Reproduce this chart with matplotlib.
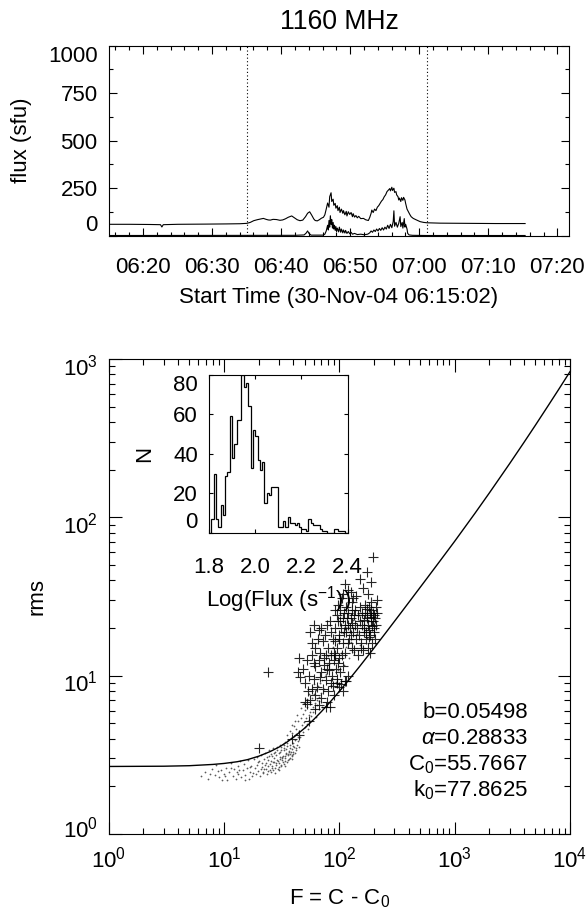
import numpy as np
import matplotlib
matplotlib.use("Agg")
import matplotlib.pyplot as plt
import matplotlib.transforms as mtransforms
from matplotlib.ticker import MultipleLocator, FixedLocator

plt.rcParams['font.family'] = ['Liberation Sans', 'DejaVu Sans']
plt.rcParams['mathtext.fontset'] = 'custom'
plt.rcParams['mathtext.rm'] = 'Liberation Sans'
plt.rcParams['mathtext.it'] = 'Liberation Sans:italic'
plt.rcParams['mathtext.default'] = 'regular'
plt.rcParams['font.size'] = 16

# ---------------- light curve (minutes after 06:15:02) ----------------
start_label = 'Start Time (30-Nov-04 06:15:02)'
start_min = 6 * 60 + 15 + 2 / 60.0
tick_labels = ['06:20', '06:30', '06:40', '06:50', '07:00', '07:10', '07:20']
window_edges = [20.0, 46.1]   # dotted lines

t_total = [0.0, 3.0, 6.0, 7.5, 7.7, 7.9, 10.0, 14.0, 17.0, 19.0, 20.0, 20.5,
           21.0, 21.5, 22.0, 22.4, 22.8, 23.1, 23.4, 23.8, 24.3, 24.8, 25.2,
           25.6, 26.0, 26.5, 26.9, 27.3, 27.7, 28.1, 28.5, 28.8, 29.1, 29.4,
           29.7, 29.9, 30.2, 30.5, 30.8, 31.1, 31.3, 31.5, 31.7, 31.9, 32.0,
           32.2, 32.3, 32.5, 32.6, 32.8, 32.9, 33.1, 33.2, 33.4, 33.5, 33.7,
           33.9, 34.0, 34.2, 34.4, 34.5, 34.7, 34.9, 35.1, 35.3, 35.4, 35.6,
           35.8, 36.0, 36.2, 36.5, 36.9, 37.2, 37.6, 37.8, 38.0, 38.1, 38.3,
           38.5, 38.7, 38.9, 39.1, 39.3, 39.5, 39.7, 39.9, 40.1, 40.3, 40.5,
           40.7, 40.8, 41.0, 41.1, 41.3, 41.4, 41.6, 41.7, 41.9, 42.0, 42.1,
           42.3, 42.4, 42.6, 42.7, 42.9, 43.0, 43.2, 43.4, 43.6, 43.8, 44.1,
           44.5, 45.1, 45.6, 46.1, 48.0, 52.0, 56.0, 60.3]
flux_total = [60, 60, 59, 58, 46, 58, 60, 61, 62, 63, 65, 70,
              79, 84, 88, 91, 86, 83, 82, 86, 85, 81, 83,
              89, 97, 104, 94, 84, 79, 82, 100, 118, 126, 108,
              88, 80, 78, 84, 92, 97, 110, 140, 172, 150, 205,
              226, 180, 192, 160, 170, 145, 158, 132, 150, 122, 140,
              118, 132, 110, 128, 104, 126, 112, 122, 100, 116, 98,
              106, 94, 102, 90, 91, 84, 80, 96, 118, 135, 122,
              140, 132, 150, 158, 170, 182, 190, 205, 215, 232, 240,
              248, 236, 255, 238, 250, 228, 232, 215, 205, 188, 198,
              180, 200, 186, 202, 188, 170, 140, 126, 112, 100, 91,
              84, 74, 70, 68, 66, 65, 64, 64]

t_pol = [0.0, 27.0, 28.3, 28.6, 28.8, 29.0, 29.3, 31.0, 31.3, 31.5, 31.7,
         31.8, 31.9, 32.0, 32.1, 32.2, 32.3, 32.4, 32.5, 32.6, 32.7, 32.8,
         32.9, 33.0, 33.1, 33.3, 33.4, 33.6, 33.7, 33.9, 34.0, 34.2, 34.3,
         34.5, 34.7, 34.9, 35.1, 35.3, 35.6, 36.0, 36.5, 37.0, 37.5, 37.8,
         38.0, 38.2, 38.4, 38.6, 38.8, 39.0, 39.2, 39.4, 39.6, 39.8, 40.0,
         40.2, 40.4, 40.6, 40.8, 41.0, 41.2, 41.3, 41.4, 41.6, 41.8, 42.0,
         42.2, 42.3, 42.5, 42.6, 42.8, 42.9, 43.0, 43.2, 43.3, 43.5, 44.0,
         46.0, 60.3]
flux_pol = [1, 2, 4, 14, 25, 12, 3, 3, 8, 25, 55,
            30, 80, 45, 105, 60, 85, 40, 70, 35, 55, 28,
            48, 22, 40, 20, 45, 18, 35, 15, 30, 14, 28,
            12, 22, 10, 18, 8, 12, 6, 8, 5, 8, 15,
            25, 18, 30, 22, 35, 25, 38, 28, 42, 30, 45,
            35, 55, 38, 60, 42, 75, 131, 50, 70, 45, 65,
            100, 48, 70, 40, 90, 45, 60, 35, 12, 4, 2,
            1, 1]

# ---------------- histogram (inset) ----------------
hist_start, hist_width = 1.80, 0.01
hist_counts = [0, 7, 30, 7, 3, 14, 9, 29, 31, 59,
               38, 45, 57, 57, 80, 74, 76, 64, 33, 52,
               49, 37, 32, 36, 15, 20, 19, 23, 23, 23,
               3, 3, 6, 3, 8, 5, 5, 4, 5, 3,
               2, 2, 1, 7, 5, 4, 4, 4, 2, 1,
               1, 0, 0, 0, 2, 2, 1, 1, 1, 0]

# ---------------- rms vs F ----------------
model_F = [1, 3, 5, 8, 10, 13, 16, 20, 25, 30, 35, 40, 50, 60, 70, 85, 100,
           120, 150, 200, 250, 325, 425, 550, 750, 1000, 1500, 2000, 3000,
           4000, 5000, 6500, 8000, 10000]
model_rms = [2.67, 2.68, 2.70, 2.75, 2.79, 2.86, 2.95, 3.10, 3.31, 3.54, 3.80,
             4.08, 4.66, 5.29, 5.94, 6.94, 7.96, 9.35, 11.44, 14.96, 18.48,
             23.75, 30.75, 39.45, 53.3, 70.6, 106.1, 142.7, 218.7, 298.2,
             380.8, 510.3, 644.7, 832]

cross_F = [197, 173, 187, 211, 160, 150, 178, 140, 125,
           112, 120, 105, 128, 98, 115, 108, 132, 92,
           95, 102, 110, 118, 125, 132, 100, 108, 115, 122, 130, 138, 96, 104,
           112, 128, 135, 92, 99, 117, 126, 106, 140, 113, 120, 133, 101, 110,
           124, 97, 91, 137, 107, 119, 129,
           150, 158, 165, 172, 180, 188, 195, 200, 205, 148, 155, 162, 170, 178,
           185, 192, 198, 208, 152, 168, 176, 184, 190, 146, 160, 174, 182, 196,
           203, 157, 166, 187, 193, 142, 153, 171, 199, 206, 163, 179, 186, 145,
           210, 175, 189,
           56, 60, 65, 70, 75, 80, 85, 62, 68, 78, 88, 58, 72, 83, 90, 66, 76,
           45, 48, 52, 55, 58, 62, 66, 70, 74, 78, 82, 86, 90, 50, 54, 60, 64,
           68, 72, 76, 80, 84, 88, 46, 56, 62, 70, 78, 66, 52, 94, 98, 96, 102,
           108, 104, 112, 60, 74, 85, 92, 44, 58, 82, 100,
           100, 108, 115, 90, 120, 95,
           20, 39, 45, 55, 50, 61, 76, 83, 24]
cross_rms = [56, 45, 39, 30, 36, 41, 33, 32, 34,
             38, 35, 31, 29, 28, 27, 33, 31, 26,
             24, 22, 25, 21, 23, 19, 18, 16, 19, 17, 15, 21, 15, 20,
             14, 26, 24, 20, 17, 23, 18, 13.5, 17, 21, 16, 14.5, 26, 19,
             20, 22, 16.5, 26, 23, 25, 21.5,
             22, 25, 20, 24, 27, 22, 25, 20, 23, 18, 16, 19, 17, 21,
             18, 16, 19, 27, 27, 28, 15, 25, 29, 24, 14.5, 23, 19.5, 22,
             17, 21, 25, 26, 20.5, 20, 15, 19, 24, 21, 22.5, 17.5, 14, 13.5,
             25, 26.5, 23.5,
             19, 21, 17, 20, 18, 15, 19, 15, 14, 21, 17, 16, 16.5, 22, 14, 19.5, 13.5,
             13, 11, 12.5, 10, 13.5, 11.5, 12.5, 10.5, 13, 11, 12, 10, 12.5, 9, 8, 9.5, 8.5,
             9.8, 8.2, 9.4, 8, 9, 8.6, 9.8, 7, 7.5, 7.2, 6.8, 6.5, 6.6, 11, 12, 9.5, 10.5,
             11.5, 8.8, 9.2, 12, 11.7, 13.5, 13.5, 10.5, 8.2, 10.8, 13,
             8.5, 8, 9.3, 7.6, 10, 9,
             3.5, 4.0, 4.2, 5.2, 6.8, 6.2, 6.3, 6.3, 10.5]

dot_F = [6.3, 6.9, 7.2, 7.8, 8.3, 8.6, 9.1, 9.4, 9.9, 10.3, 10.7, 11.1, 11.4,
         11.9, 12.2, 12.6, 13.1, 13.3, 13.8, 14.1, 14.6, 14.9, 15.3, 15.7,
         16.2, 16.4, 16.9, 17.3, 17.6, 18.1, 7.5, 8.9, 10.1, 12.9, 15.1, 16.7,
         17.9, 11.6, 9.6, 13.6,
         18.4, 18.8, 19.2, 19.5, 19.9, 20.3, 20.6, 21.0, 21.3, 21.7, 22.1,
         22.4, 22.8, 23.1, 23.5, 23.8, 24.2, 24.6, 24.9, 25.3, 25.7, 26.0,
         26.4, 26.7, 27.1, 27.5, 27.8, 28.2, 28.6, 28.9, 29.3, 29.7, 30.1,
         30.4, 30.8, 31.2, 31.5, 31.9, 32.3, 32.6, 33.0, 33.4, 33.8, 34.1,
         34.5, 34.9, 35.3, 35.7, 36.1, 36.4, 36.8, 37.2, 37.7, 38.1, 38.5,
         38.9, 39.4, 39.8, 40.3, 40.8, 41.3, 41.9, 42.5, 43.1, 43.8, 44.5,
         22.6, 23.9, 25.1, 26.2, 27.3, 28.4, 29.5, 30.6, 31.7, 32.8, 33.6,
         34.7, 35.9, 37.0, 38.3, 39.6, 24.4, 26.9, 29.0, 31.0, 33.2, 35.1,
         23.3, 25.9, 28.0, 30.3, 32.1, 34.3, 36.6, 21.5, 20.8, 27.7, 31.3,
         34.0, 37.5, 40.0, 19.7, 24.0, 26.5, 29.8, 32.5, 36.0, 38.7, 42.0,
         44.0, 41.0, 21.9, 25.5, 30.0, 33.9, 39.0,
         35.5, 37.4, 39.2, 40.6, 42.3, 43.5, 44.8, 46.2, 47.1, 48.5, 49.3,
         50.6, 51.8, 52.9, 54.1, 55.4, 56.2, 57.7, 58.6, 59.8, 61.2, 62.5,
         63.9, 65.3, 66.7, 68.2, 69.6, 71.3, 73.0, 74.8, 45.5, 48.0, 50.1,
         52.3, 54.7, 57.0, 59.3, 61.8, 64.4, 67.1, 46.8, 49.7, 52.1, 55.0,
         58.1, 60.5, 43.0, 41.5, 38.6, 53.5, 62.9, 70.2,
         76, 81, 86, 91, 97, 103, 109, 114, 121, 127, 134, 142, 151, 163,
         172, 79, 88, 98, 107, 118, 132, 148, 84, 94]
dot_rms = [2.31, 2.46, 2.22, 2.58, 2.35, 2.71, 2.28, 2.52, 2.40, 2.63, 2.19,
           2.47, 2.81, 2.33, 2.56, 2.24, 2.69, 2.41, 2.88, 2.29, 2.52, 2.75,
           2.37, 2.61, 2.93, 2.21, 2.48, 2.70, 2.34, 2.97, 2.38, 2.49, 2.31,
           2.45, 2.18, 2.66, 2.43, 2.60, 2.19, 2.55,
           2.62, 2.39, 3.05, 2.74, 2.51, 2.88, 2.33, 3.14, 2.66, 2.47, 2.97,
           2.58, 3.27, 2.79, 2.41, 3.08, 2.69, 3.38, 2.52, 2.91, 3.19, 2.61,
           3.47, 2.83, 3.02, 2.44, 3.31, 2.72, 3.56, 2.95, 2.57, 3.23, 2.81,
           3.64, 3.06, 2.68, 3.41, 2.93, 3.72, 3.12, 2.76, 3.49, 3.01, 3.83,
           3.25, 2.87, 3.58, 3.14, 3.92, 3.36, 2.98, 3.67, 3.21, 4.05, 3.44,
           3.09, 3.78, 3.31, 4.14, 3.55, 3.95, 3.40, 4.28, 3.66, 4.09, 3.52,
           2.71, 2.95, 2.77, 3.09, 2.86, 3.15, 2.90, 3.28, 3.04, 3.37, 3.11,
           3.46, 3.22, 3.51, 3.29, 3.60, 3.12, 3.24, 3.39, 3.52, 3.63, 3.77,
           2.58, 2.68, 2.81, 2.97, 3.07, 3.18, 3.30, 2.82, 2.57, 2.63, 2.74,
           2.88, 3.02, 3.18, 2.83, 2.49, 2.54, 2.66, 2.84, 2.92, 3.15, 3.48,
           3.86, 3.27, 2.43, 2.47, 2.55, 2.70, 2.96,
           4.21, 4.48, 4.35, 4.82, 4.63, 5.14, 4.46, 5.37, 4.88, 5.72, 5.09,
           6.04, 5.41, 6.38, 5.67, 6.85, 5.93, 7.24, 6.31, 7.66, 6.74, 8.12,
           7.02, 8.57, 7.38, 8.96, 7.81, 9.4, 8.25, 9.9, 4.12, 4.43, 4.71,
           4.97, 5.26, 5.55, 5.88, 6.19, 6.52, 6.87, 6.28, 6.71, 7.15, 7.63,
           8.22, 8.84, 5.62, 5.18, 4.87, 4.58, 5.45, 6.35,
           10.3, 11.8, 9.6, 12.7, 10.8, 13.9, 11.6, 15.2, 12.9, 16.4, 14.1,
           18.3, 15.6, 20.1, 17.4, 13.4, 15.1, 16.8, 18.6, 20.3, 22.5, 24.1,
           8.7, 9.1]

params = ['b=0.05498', r'$\mathit{\alpha}$=0.28833', 'C$_0$=55.7667',
          'k$_0$=77.8625']

# ---------------- figure ----------------
fig = plt.figure(figsize=(5.88, 9.14), dpi=100)
W, H = 588.0, 914.0


def box(l, t, r, b):
    return [l / W, 1 - b / H, (r - l) / W, (b - t) / H]


# top panel: light curve
ax1 = fig.add_axes(box(108.7, 45.7, 569.3, 235.7))
ax1.plot(t_total, flux_total, color='k', lw=0.8)
ax1.plot(t_pol, flux_pol, color='k', lw=0.8)
for x in window_edges:
    ax1.axvline(x, color='k', lw=0.8, ls=(0, (1, 2.2)))
ax1.set_xlim(0, 66.7)
ax1.set_ylim(0, 1000)
tick_pos = [int(s[:2]) * 60 + int(s[3:]) - start_min for s in tick_labels]
ax1.set_xticks(tick_pos)
ax1.set_xticklabels(tick_labels)
ax1.xaxis.set_minor_locator(FixedLocator([p + d for p in tick_pos for d in (-8, -6, -4, -2)]))
ax1.set_yticks([0, 250, 500, 750, 1000])
ax1.yaxis.set_minor_locator(MultipleLocator(125))
ax1.tick_params(which='both', direction='in', top=True, right=True, width=0.8)
ax1.tick_params(which='major', length=6)
ax1.tick_params(which='minor', length=3)
ax1.tick_params(axis='x', pad=15)
ax1.tick_params(axis='y', pad=8)
ylab = ax1.get_yticklabels()
ylab[0].set_va('bottom')
ylab[-1].set_va('top')
ax1.set_xlabel(start_label, va='center')
ax1.xaxis.set_label_coords(0.5, (235.7 - 297.0) / 190.0)
ax1.set_ylabel('flux (sfu)', va='center')
ax1.yaxis.set_label_coords((21.7 - 108.7) / 460.6, 0.5)
ax1.set_title('1160 MHz', pad=12)

# bottom panel: rms vs F
ax2 = fig.add_axes(box(108.7, 359.0, 570.0, 834.0))
ax2.set_xscale('log')
ax2.set_yscale('log')
ax2.scatter(dot_F, dot_rms, s=1.6, color='0.35', linewidths=0)
ax2.plot(cross_F, cross_rms, ls='none', marker='+', ms=7, mew=0.8,
         color='k', alpha=0.85)
ax2.plot(model_F, model_rms, color='k', lw=1.0)
ax2.set_xlim(1, 1e4)
ax2.set_ylim(1, 1e3)
ax2.tick_params(which='both', direction='in', top=True, right=True, width=0.8)
ax2.tick_params(which='major', length=9)
ax2.tick_params(which='minor', length=4.5)
ax2.tick_params(axis='x', pad=9)
ax2.tick_params(axis='y', pad=8)
fig.canvas.draw()
for k, lab in enumerate(ax2.get_yticklabels()):
    dy = 5 / 72.0 if lab.get_text() == r'$\mathdefault{10^{0}}$' else -4 / 72.0
    lab.set_transform(lab.get_transform() +
                      mtransforms.ScaledTranslation(0, dy, fig.dpi_scale_trans))
ax2.set_xlabel('F = C - C$_0$', va='center')
ax2.xaxis.set_label_coords(0.5, (834.0 - 899.0) / 475.0)
ax2.set_ylabel('rms', va='center')
ax2.yaxis.set_label_coords((37.0 - 108.7) / 461.3, 0.5)
for k, s in enumerate(params):
    ax2.text(0.909, 0.2436 - k * 0.0550, s, transform=ax2.transAxes,
             ha='right', va='baseline')

# inset histogram
ax3 = fig.add_axes(box(209.0, 374.7, 347.7, 533.0))
edges = [hist_start + i * hist_width for i in range(len(hist_counts) + 1)]
ax3.stairs(hist_counts, edges, color='k', lw=0.9)
ax3.set_xlim(1.8, 2.4)
ax3.set_ylim(0, 80)
ax3.set_xticks([1.8, 2.0, 2.2, 2.4])
ax3.set_xticklabels(['1.8', '2.0', '2.2', '2.4'])
ax3.set_yticks([0, 20, 40, 60, 80])
ax3.tick_params(which='both', direction='in', top=True, right=True,
                length=3, width=0.8)
ax3.tick_params(axis='x', pad=17)
ax3.tick_params(axis='y', pad=8)
ilab = ax3.get_yticklabels()
ilab[0].set_va('bottom')
ilab[-1].set_va('top')
ax3.set_xlabel('Log(Flux (s$^{-1}$))', labelpad=5)
ax3.set_ylabel('N', va='center')
ax3.yaxis.set_label_coords((144.5 - 209.0) / 138.7, 0.5)

fig.savefig('out.png', dpi=100, facecolor='white')
